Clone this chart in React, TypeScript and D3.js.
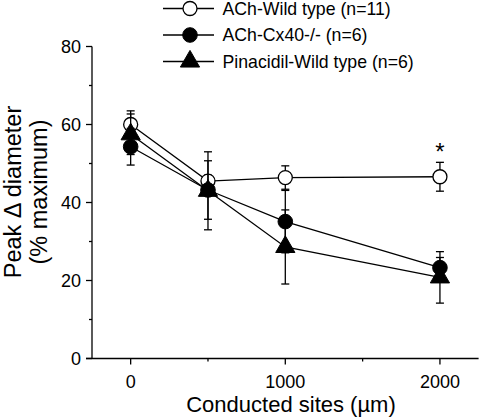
import React from "react";
import * as d3 from "d3";

const sites = [0, 500, 1000, 2000];
const wildMean = [60, 45.5, 46.4, 46.6];
const wildErr = [3.5, 1.5, 3.0, 3.7];
const cx40Mean = [54.3, 43.2, 35.1, 23.3];
const cx40Err = [4.7, 7.5, 8.0, 2.6];
const pinMean = [57.5, 43.0, 28.6, 20.8];
const pinErr = [5.2, 10.0, 9.5, 6.6];
const seriesNames = ["ACh-Wild type (n=11)", "ACh-Cx40-/- (n=6)", "Pinacidil-Wild type (n=6)"];
const markerTypes = ["open", "filled", "triangle"];
const xMajorTicks = [0, 1000, 2000];
const xMinorTicks = [500, 1500];
const yMajorTicks = [0, 20, 40, 60, 80];
const yMinorTicks = [10, 30, 50, 70];

const FONT = "'Liberation Sans', Arial, sans-serif";

function Marker({ type, cx, cy }: { type: string; cx: number; cy: number }) {
  if (type === "open") return <circle cx={cx} cy={cy} r={7} fill="#fff" stroke="#000" strokeWidth={1.3} />;
  if (type === "filled") return <circle cx={cx} cy={cy} r={7.3} fill="#000" stroke="#000" strokeWidth={1} />;
  const s = d3.symbol().type(d3.symbolTriangle).size(160)();
  return <path d={s as string} transform={`translate(${cx},${cy})`} fill="#000" stroke="#000" strokeWidth={1} />;
}

export default function App() {
  const W = 480, H = 420;
  const x = d3.scaleLinear().domain([-250, 2250]).range([92, 478.6]);
  const y = d3.scaleLinear().domain([0, 80]).range([358.5, 46.5]);
  const series = [
    { mean: wildMean, err: wildErr },
    { mean: cx40Mean, err: cx40Err },
    { mean: pinMean, err: pinErr },
  ];
  const line = d3.line<number>().x((_, i) => x(sites[i])).y((d) => y(d));
  return (
    <div style={{ position: "absolute", left: 0, top: 0 }}>
      <svg width={W} height={H} style={{ display: "block" }} fontFamily={FONT}>
        <rect width={W} height={H} fill="#fff" />
        {/* axes */}
        <line x1={92} x2={92} y1={y(80)} y2={y(0)} stroke="#000" strokeWidth={1.3} />
        <line x1={86} x2={x(2250)} y1={y(0)} y2={y(0)} stroke="#000" strokeWidth={1.3} />
        {yMajorTicks.map((t) => (
          <g key={"ym" + t}>
            <line x1={86} x2={92} y1={y(t)} y2={y(t)} stroke="#000" strokeWidth={1.3} />
            <text x={81} y={y(t)} dy="0.36em" textAnchor="end" fontSize={18}>{t}</text>
          </g>
        ))}
        {yMinorTicks.map((t) => (
          <line key={"yn" + t} x1={89} x2={92} y1={y(t)} y2={y(t)} stroke="#000" strokeWidth={1.3} />
        ))}
        {xMajorTicks.map((t) => (
          <g key={"xm" + t}>
            <line x1={x(t)} x2={x(t)} y1={y(0)} y2={y(0) + 6} stroke="#000" strokeWidth={1.3} />
            <text x={x(t)} y={387.5} textAnchor="middle" fontSize={18}>{t}</text>
          </g>
        ))}
        {xMinorTicks.map((t) => (
          <line key={"xn" + t} x1={x(t)} x2={x(t)} y1={y(0)} y2={y(0) + 3} stroke="#000" strokeWidth={1.3} />
        ))}
        <text x={291} y={412} textAnchor="middle" fontSize={22}>Conducted sites (µm)</text>
        <text transform={`translate(21,192) rotate(-90)`} textAnchor="middle" fontSize={23.5}>Peak Δ diameter</text>
        <text transform={`translate(47,192) rotate(-90)`} textAnchor="middle" fontSize={23.5}>(% maximum)</text>
        {/* series */}
        {series.map((s, si) => (
          <g key={"s" + si}>
            <path d={line(s.mean) as string} fill="none" stroke="#000" strokeWidth={1.3} />
            {s.mean.map((m, i) => {
              const cx = x(sites[i]);
              const top = y(m + s.err[i]);
              const bot = y(m - s.err[i]);
              return (
                <g key={"e" + i} stroke="#000" strokeWidth={1.3}>
                  <line x1={cx} x2={cx} y1={top} y2={bot} />
                  <line x1={cx - 4} x2={cx + 4} y1={top} y2={top} />
                  <line x1={cx - 4} x2={cx + 4} y1={bot} y2={bot} />
                </g>
              );
            })}
            {s.mean.map((m, i) => (
              <Marker key={"m" + i} type={markerTypes[si]} cx={x(sites[i])} cy={y(m)} />
            ))}
          </g>
        ))}
        <text x={x(2000)} y={160} textAnchor="middle" fontSize={24}>*</text>
        {/* legend */}
        {seriesNames.map((n, i) => {
          const ly = 8.5 + i * 26.5;
          return (
            <g key={"l" + i}>
              <line x1={163} x2={214} y1={ly} y2={ly} stroke="#000" strokeWidth={1.3} />
              <Marker type={markerTypes[i]} cx={190} cy={ly} />
              <text x={222.5} y={ly} dy="0.36em" fontSize={17.7}>{n}</text>
            </g>
          );
        })}
      </svg>
    </div>
  );
}
